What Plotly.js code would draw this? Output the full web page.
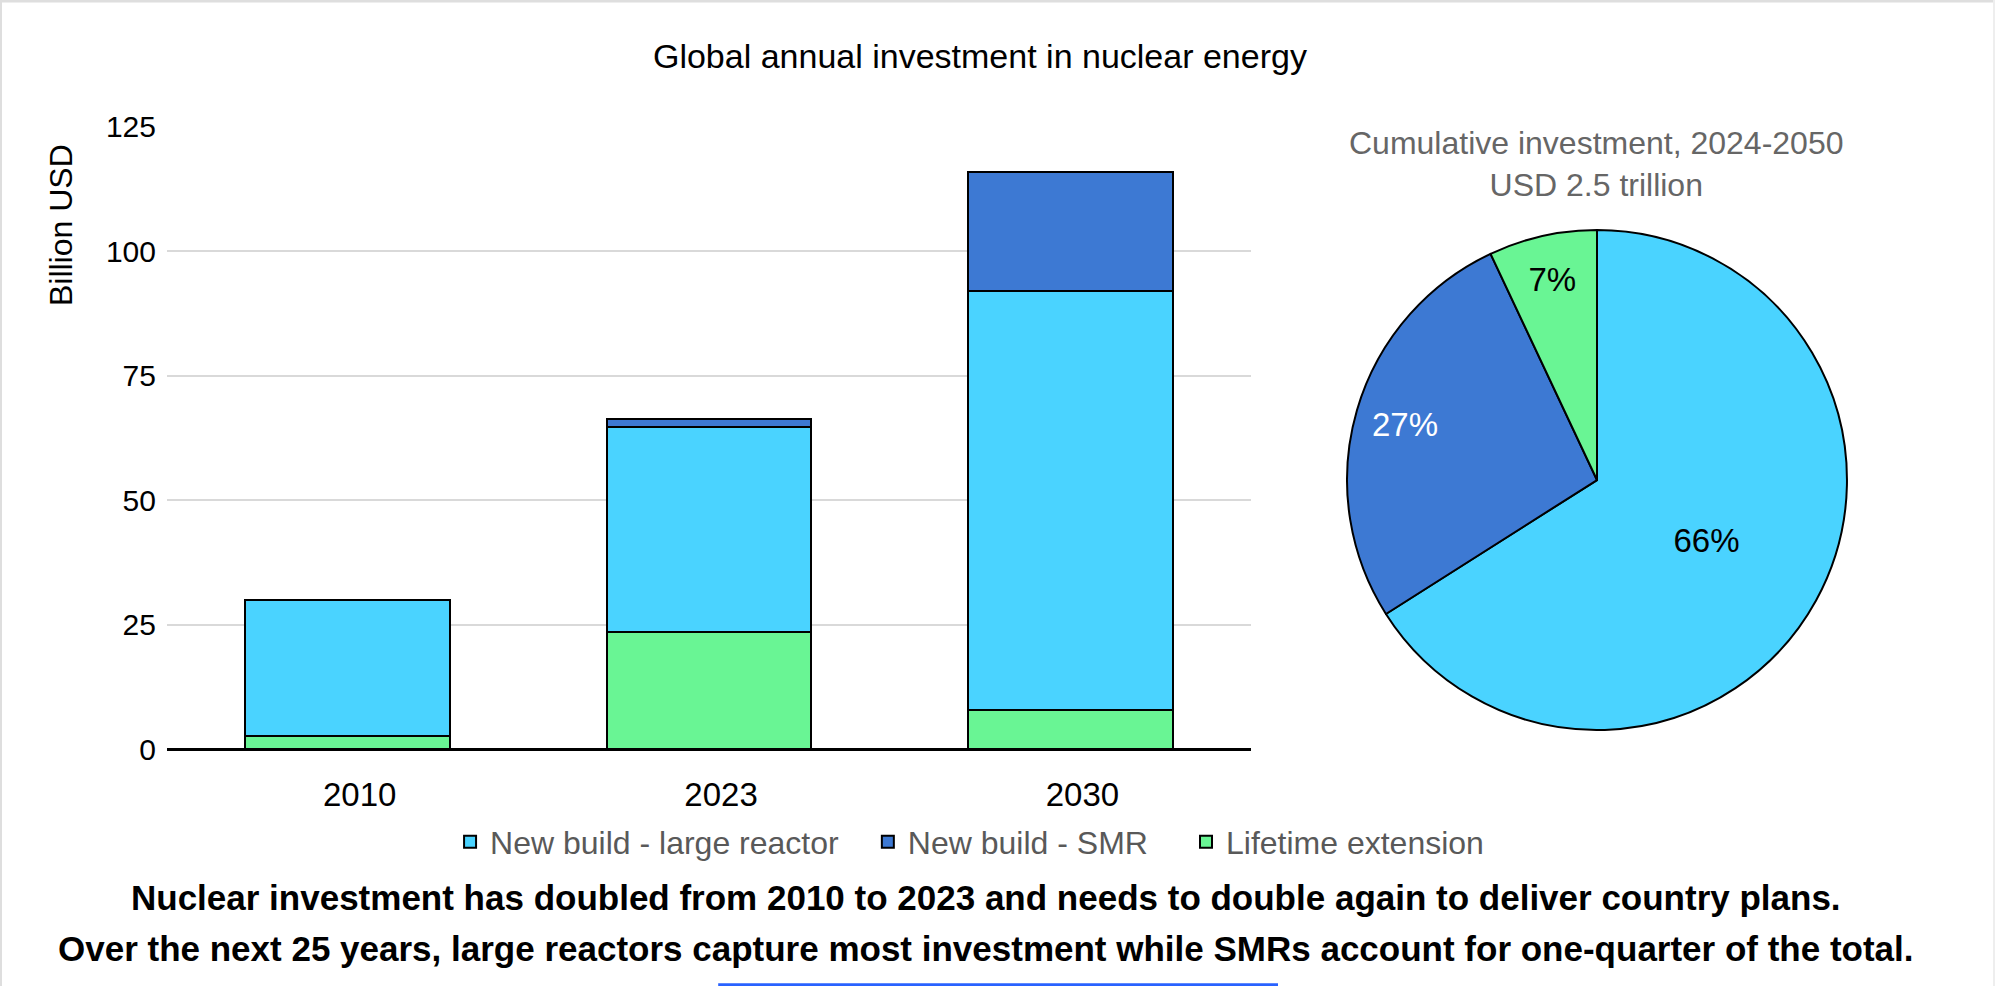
<!DOCTYPE html>
<html>
<head>
<meta charset="utf-8">
<script src="https://cdn.plot.ly/plotly-3.0.1.min.js"></script>
<style>
  html, body { margin: 0; padding: 0; background: #fff; }
  #chart { width: 1995px; height: 986px; }
</style>
</head>
<body>
<div id="chart"></div>
<script>
// ---- Data ----
const years = ["2010", "2023", "2030"];
const lifetimeExtension = [2.6, 23.5, 7.8];
const largeReactor = [27.4, 41.3, 84.3];
const smr = [0, 1.6, 23.9];

const pieLabels = ["New build - large reactor", "New build - SMR", "Lifetime extension"];
const pieShares = [66, 27, 7];

const seriesNames = ["New build - large reactor", "New build - SMR", "Lifetime extension"];
const colLarge = "#4AD3FF";
const colSMR = "#3D79D3";
const colLife = "#69F594";

const FONT = "Arial, 'Liberation Sans', sans-serif";
const CLEAR = "rgba(0,0,0,0)";
const PAD = "\u00a0\u00a0\u2009";          // extra spacing between legend entries
const PAD2 = "\u00a0\u00a0\u00a0\u2009";

const barLine = { color: "#000", width: 2 };

const traces = [
  {
    type: "bar", name: seriesNames[2], x: years, y: lifetimeExtension,
    marker: { color: colLife, line: barLine }, legendrank: 3, hoverinfo: "y+name"
  },
  {
    type: "bar", name: seriesNames[0] + PAD, x: years, y: largeReactor,
    marker: { color: colLarge, line: barLine }, legendrank: 1, hoverinfo: "y+name"
  },
  {
    type: "bar", name: seriesNames[1] + PAD2, x: years, y: smr,
    marker: { color: colSMR, line: barLine }, legendrank: 2, hoverinfo: "y+name"
  },
  // full pie: slices + label for the large slice
  {
    type: "pie", labels: pieLabels, values: pieShares, sort: false,
    direction: "clockwise", rotation: 0,
    domain: { x: [0.6752, 0.9258], y: [0.2596, 0.7667] },
    marker: { colors: [colLarge, colSMR, colLife], line: { color: "#000", width: 2 } },
    textinfo: "percent", textposition: "inside", insidetextorientation: "horizontal",
    textfont: { family: FONT, size: 33, color: ["#000", CLEAR, CLEAR] },
    showlegend: false
  },
  // transparent ring overlay: places the smaller slices' labels near the rim
  {
    type: "pie", labels: pieLabels, values: pieShares, sort: false,
    direction: "clockwise", rotation: 0, hole: 0.6,
    domain: { x: [0.6752, 0.9258], y: [0.2596, 0.7667] },
    marker: { colors: [CLEAR, CLEAR, CLEAR], line: { color: CLEAR, width: 0 } },
    textinfo: "percent", textposition: "inside", insidetextorientation: "horizontal",
    textfont: { family: FONT, size: 33, color: [CLEAR, "#fff", "#000"] },
    showlegend: false, hoverinfo: "skip"
  }
];

const layout = {
  width: 1995, height: 986,
  margin: { l: 0, r: 0, t: 0, b: 0 },
  paper_bgcolor: "#fff", plot_bgcolor: "#fff",
  font: { family: FONT, size: 30, color: "#000" },
  title: {
    text: "Global annual investment in nuclear energy",
    x: 0.4912, xanchor: "center", y: 0.9432, yanchor: "middle",
    font: { family: FONT, size: 34, color: "#000" }
  },
  barmode: "stack",
  bargap: 0.433,
  xaxis: {
    domain: [0.0837, 0.6271], type: "category",
    showgrid: false, showline: false, ticks: "",
    tickfont: { family: FONT, size: 33, color: "#000" },
    ticklabelstandoff: 23,
    ticklabelshift: 12
  },
  yaxis: {
    domain: [0.2401, 0.8715], range: [0, 125], dtick: 25, tick0: 0,
    showgrid: true, gridcolor: "#d9d9d9", gridwidth: 2,
    zeroline: true, zerolinecolor: "#000", zerolinewidth: 3,
    showline: false, ticks: "",
    tickfont: { family: FONT, size: 30, color: "#000" },
    ticklabelstandoff: 10
  },
  legend: {
    orientation: "h", x: 0.486, xanchor: "center", y: 0.146, yanchor: "middle",
    font: { family: FONT, size: 32, color: "#595959" },
    traceorder: "normal"
  },
  annotations: [
    {
      text: "Billion USD", textangle: -90, xref: "paper", yref: "paper",
      x: 0.0306, y: 0.7718, xanchor: "center", yanchor: "middle", showarrow: false,
      font: { family: FONT, size: 32, color: "#000" }
    },
    {
      text: "Cumulative investment, 2024-2050<br>USD 2.5 trillion",
      xref: "paper", yref: "paper", x: 0.8, y: 0.8337,
      xanchor: "center", yanchor: "middle", showarrow: false,
      font: { family: FONT, size: 32, color: "#666" }
    },
    {
      text: "<b>Nuclear investment has doubled from 2010 to 2023 and needs to double again to deliver country plans.</b>",
      xref: "paper", yref: "paper", x: 0.494, y: (986 - 897) / 986,
      xanchor: "center", yanchor: "middle", showarrow: false,
      font: { family: FONT, size: 35, color: "#000" }
    },
    {
      text: "<b>Over the next 25 years, large reactors capture most investment while SMRs account for one-quarter of the total.</b>",
      xref: "paper", yref: "paper", x: 0.494, y: (986 - 948) / 986,
      xanchor: "center", yanchor: "middle", showarrow: false,
      font: { family: FONT, size: 35, color: "#000" }
    }
  ],
  shapes: [
    { type: "line", xref: "paper", yref: "paper", x0: 0, x1: 1, y0: 0.999, y1: 0.999, line: { color: "#dedede", width: 3 } },
    { type: "line", xref: "paper", yref: "paper", x0: 0.0005, x1: 0.0005, y0: 0, y1: 1, line: { color: "#dedede", width: 2 } },
    { type: "line", xref: "paper", yref: "paper", x0: 0.9995, x1: 0.9995, y0: 0, y1: 1, line: { color: "#eeeeee", width: 2 } },
    { type: "line", xref: "paper", yref: "paper", x0: 0.36, x1: 0.6406, y0: 0.0012, y1: 0.0012, line: { color: "#2962ff", width: 3 } }
  ]
};

Plotly.newPlot("chart", traces, layout, { displayModeBar: false });
</script>
</body>
</html>
